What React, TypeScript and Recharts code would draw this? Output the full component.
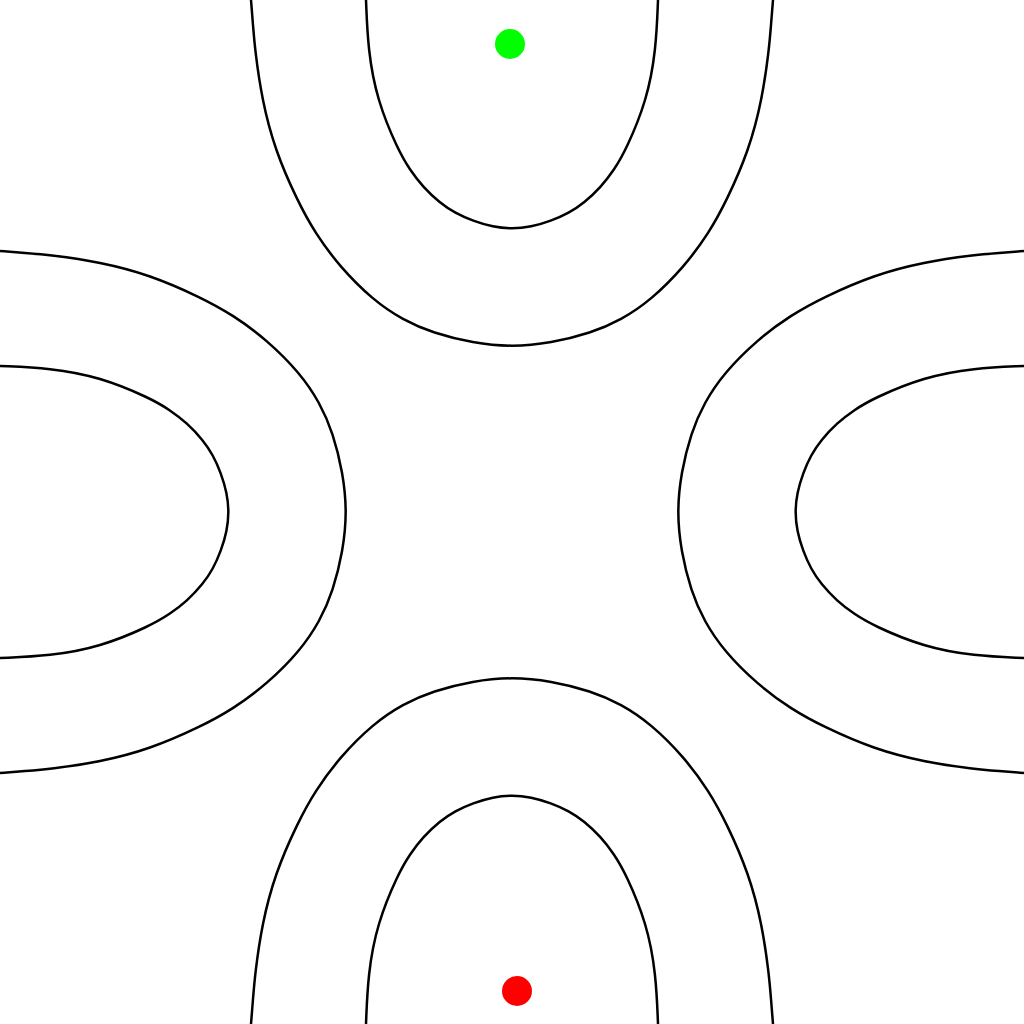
import React from "react";
import { ComposedChart, Line, Scatter, XAxis, YAxis } from "recharts";

// contour lines, in picture units (0..1024, y grows downward)
const topOuter = [
  { x: 251, y: 0 }, { x: 253, y: 25 }, { x: 255, y: 50 }, { x: 262, y: 100 }, { x: 275, y: 150 },
  { x: 297, y: 200 }, { x: 315, y: 233 }, { x: 340, y: 267 }, { x: 373, y: 300 }, { x: 403, y: 320 },
  { x: 433, y: 333 }, { x: 473, y: 343 }, { x: 512, y: 347 }, { x: 551, y: 343 }, { x: 591, y: 333 },
  { x: 621, y: 320 }, { x: 651, y: 300 }, { x: 684, y: 267 }, { x: 709, y: 233 }, { x: 727, y: 200 },
  { x: 749, y: 150 }, { x: 762, y: 100 }, { x: 769, y: 50 }, { x: 771, y: 25 }, { x: 773, y: 0 },
];
const bottomOuter = [
  { x: 251, y: 1024 }, { x: 253, y: 999 }, { x: 255, y: 974 }, { x: 262, y: 924 }, { x: 275, y: 874 },
  { x: 297, y: 824 }, { x: 315, y: 791 }, { x: 340, y: 757 }, { x: 373, y: 724 }, { x: 403, y: 704 },
  { x: 433, y: 691 }, { x: 473, y: 681 }, { x: 512, y: 677 }, { x: 551, y: 681 }, { x: 591, y: 691 },
  { x: 621, y: 704 }, { x: 651, y: 724 }, { x: 684, y: 757 }, { x: 709, y: 791 }, { x: 727, y: 824 },
  { x: 749, y: 874 }, { x: 762, y: 924 }, { x: 769, y: 974 }, { x: 771, y: 999 }, { x: 773, y: 1024 },
];
const leftOuter = [
  { x: 0, y: 251 }, { x: 25, y: 253 }, { x: 50, y: 255 }, { x: 100, y: 262 }, { x: 150, y: 275 },
  { x: 200, y: 297 }, { x: 233, y: 315 }, { x: 267, y: 340 }, { x: 300, y: 373 }, { x: 320, y: 403 },
  { x: 333, y: 433 }, { x: 343, y: 473 }, { x: 347, y: 512 }, { x: 343, y: 551 }, { x: 333, y: 591 },
  { x: 320, y: 621 }, { x: 300, y: 651 }, { x: 267, y: 684 }, { x: 233, y: 709 }, { x: 200, y: 727 },
  { x: 150, y: 749 }, { x: 100, y: 762 }, { x: 50, y: 769 }, { x: 25, y: 771 }, { x: 0, y: 773 },
];
const rightOuter = [
  { x: 1024, y: 251 }, { x: 999, y: 253 }, { x: 974, y: 255 }, { x: 924, y: 262 }, { x: 874, y: 275 },
  { x: 824, y: 297 }, { x: 791, y: 315 }, { x: 757, y: 340 }, { x: 724, y: 373 }, { x: 704, y: 403 },
  { x: 691, y: 433 }, { x: 681, y: 473 }, { x: 677, y: 512 }, { x: 681, y: 551 }, { x: 691, y: 591 },
  { x: 704, y: 621 }, { x: 724, y: 651 }, { x: 757, y: 684 }, { x: 791, y: 709 }, { x: 824, y: 727 },
  { x: 874, y: 749 }, { x: 924, y: 762 }, { x: 974, y: 769 }, { x: 999, y: 771 }, { x: 1024, y: 773 },
];

const topInner = [
  { x: 366, y: 0 }, { x: 368, y: 50 }, { x: 377, y: 100 }, { x: 398, y: 150 }, { x: 410, y: 170 },
  { x: 423, y: 187 }, { x: 440, y: 203 }, { x: 455, y: 213 }, { x: 473, y: 221 }, { x: 493, y: 227 },
  { x: 512, y: 229 }, { x: 531, y: 227 }, { x: 551, y: 221 }, { x: 569, y: 213 }, { x: 584, y: 203 },
  { x: 601, y: 187 }, { x: 614, y: 170 }, { x: 626, y: 150 }, { x: 647, y: 100 }, { x: 656, y: 50 },
  { x: 658, y: 0 },
];
const bottomInner = [
  { x: 366, y: 1024 }, { x: 368, y: 974 }, { x: 377, y: 924 }, { x: 398, y: 874 }, { x: 410, y: 854 },
  { x: 423, y: 837 }, { x: 440, y: 821 }, { x: 455, y: 811 }, { x: 473, y: 803 }, { x: 493, y: 797 },
  { x: 512, y: 795 }, { x: 531, y: 797 }, { x: 551, y: 803 }, { x: 569, y: 811 }, { x: 584, y: 821 },
  { x: 601, y: 837 }, { x: 614, y: 854 }, { x: 626, y: 874 }, { x: 647, y: 924 }, { x: 656, y: 974 },
  { x: 658, y: 1024 },
];
const leftInner = [
  { x: 0, y: 366 }, { x: 50, y: 368 }, { x: 100, y: 377 }, { x: 150, y: 398 }, { x: 170, y: 410 },
  { x: 187, y: 423 }, { x: 203, y: 440 }, { x: 213, y: 455 }, { x: 221, y: 473 }, { x: 227, y: 493 },
  { x: 229, y: 512 }, { x: 227, y: 531 }, { x: 221, y: 551 }, { x: 213, y: 569 }, { x: 203, y: 584 },
  { x: 187, y: 601 }, { x: 170, y: 614 }, { x: 150, y: 626 }, { x: 100, y: 647 }, { x: 50, y: 656 },
  { x: 0, y: 658 },
];
const rightInner = [
  { x: 1024, y: 366 }, { x: 974, y: 368 }, { x: 924, y: 377 }, { x: 874, y: 398 }, { x: 854, y: 410 },
  { x: 837, y: 423 }, { x: 821, y: 440 }, { x: 811, y: 455 }, { x: 803, y: 473 }, { x: 797, y: 493 },
  { x: 795, y: 512 }, { x: 797, y: 531 }, { x: 803, y: 551 }, { x: 811, y: 569 }, { x: 821, y: 584 },
  { x: 837, y: 601 }, { x: 854, y: 614 }, { x: 874, y: 626 }, { x: 924, y: 647 }, { x: 974, y: 656 },
  { x: 1024, y: 658 },
];

const startPoint = [{ x: 510, y: 44 }];
const endPoint = [{ x: 517, y: 991 }];

const curves = [topOuter, topInner, bottomOuter, bottomInner, leftOuter, leftInner, rightOuter, rightInner];

const dotShape = (color: string) => (props: any) =>
  <circle cx={props.cx} cy={props.cy} r={15} fill={color} />;

export default function App() {
  return (
    <div style={{ position: "absolute", left: 0, top: 0, width: 1024, height: 1024, background: "#fff" }}>
      <ComposedChart width={1024} height={1024} margin={{ top: 0, right: 0, bottom: 0, left: 0 }}>
        <XAxis type="number" dataKey="x" domain={[0, 1024]} hide allowDataOverflow />
        <YAxis type="number" dataKey="y" domain={[0, 1024]} reversed hide allowDataOverflow />
        {curves.map((c, i) => (
          <Line key={`c-${i}`} data={c} dataKey="y" type="basis" stroke="#000" strokeWidth={2.5}
            dot={false} activeDot={false} isAnimationActive={false} />
        ))}
        <Scatter data={startPoint} dataKey="y" shape={dotShape("#00ff00")} isAnimationActive={false} />
        <Scatter data={endPoint} dataKey="y" shape={dotShape("#ff0000")} isAnimationActive={false} />
      </ComposedChart>
    </div>
  );
}
